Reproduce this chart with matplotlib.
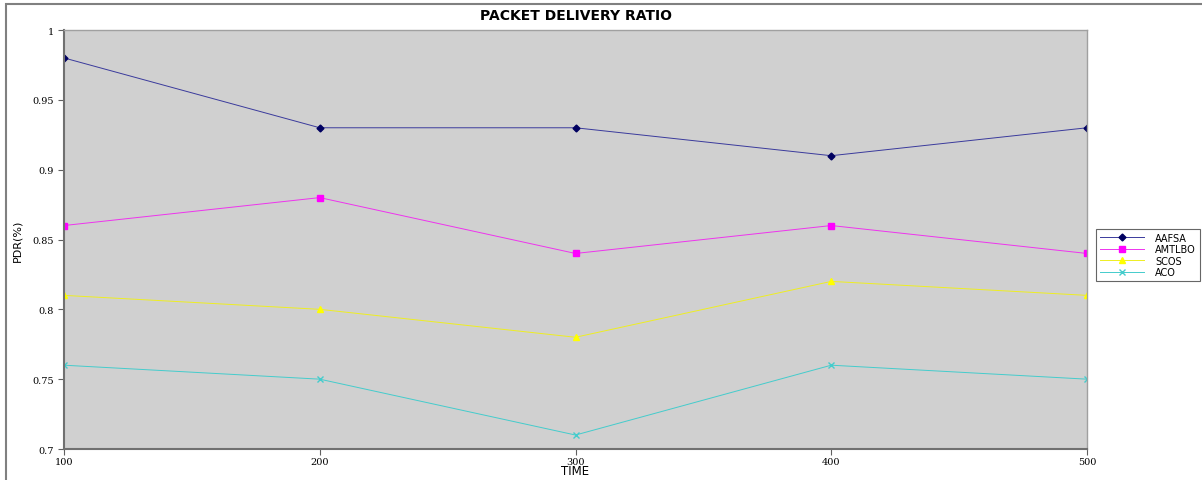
import matplotlib.pyplot as plt
from matplotlib.patches import Rectangle

time = [100, 200, 300, 400, 500]
aafsa = [0.98, 0.93, 0.93, 0.91, 0.93]
amtlbo = [0.86, 0.88, 0.84, 0.86, 0.84]
scos = [0.81, 0.80, 0.78, 0.82, 0.81]
aco = [0.76, 0.75, 0.71, 0.76, 0.75]

yticks = [0.7, 0.75, 0.8, 0.85, 0.9, 0.95, 1]
ytick_labels = ["0.7", "0.75", "0.8", "0.85", "0.9", "0.95", "1"]


def main():
    fig = plt.figure(figsize=(12.02, 4.81), dpi=100)
    # outer chart frame
    fig.patches.append(Rectangle((6 / 1202, -0.1), 1.2, 1 - 5 / 481 + 0.1,
                                 transform=fig.transFigure, fill=False,
                                 edgecolor="#808080", linewidth=1.5))

    ax = fig.add_axes([64 / 1202, 31 / 481, (1087 - 64) / 1202, (450 - 31) / 481])
    ax.set_facecolor("#d0d0d0")

    ax.plot(time, aafsa, color="#3a3a9c", marker="D", markersize=3.5, markerfacecolor="#000060",
            markeredgecolor="#000060", linewidth=0.7, label="AAFSA")
    ax.plot(time, amtlbo, color="#ee33ee", marker="s", markersize=5, markerfacecolor="#ff00ff",
            markeredgecolor="#ff00ff", linewidth=0.7, label="AMTLBO")
    ax.plot(time, scos, color="#eeee22", marker="^", markersize=5, markerfacecolor="#ffff00",
            markeredgecolor="#ffff00", linewidth=0.7, label="SCOS")
    ax.plot(time, aco, color="#44cccc", marker="x", markersize=5, linewidth=0.7, label="ACO")

    ax.set_xlim(100, 500)
    ax.set_ylim(0.7, 1)
    ax.set_xticks(time)
    ax.set_xticklabels([str(t) for t in time], fontsize=7, fontfamily="DejaVu Serif")
    ax.set_yticks(yticks)
    ax.set_yticklabels(ytick_labels, fontsize=7, fontfamily="DejaVu Serif")
    ax.tick_params(length=4, width=0.8, colors="#606060", labelcolor="black")
    ax.tick_params(axis="x", pad=2)

    for side in ("left", "bottom"):
        ax.spines[side].set_color("#707070")
        ax.spines[side].set_linewidth(1.5)
    for side in ("top", "right"):
        ax.spines[side].set_color("#a0a0a0")
        ax.spines[side].set_linewidth(1.0)

    ax.set_title("PACKET DELIVERY RATIO", fontsize=10, fontweight="bold", pad=8)
    ax.set_xlabel("TIME", fontsize=8.5, va="center")
    ax.xaxis.set_label_coords(0.5, -22 / 419)
    ax.set_ylabel("PDR(%)", fontsize=8, labelpad=7)

    leg = fig.legend(loc="upper left", bbox_to_anchor=(1091 / 1202, 1 - 225 / 481),
                     fontsize=7, frameon=True, fancybox=False, borderpad=0.4,
                     labelspacing=0.15, handlelength=4.5, handletextpad=1.2)
    leg.get_frame().set_edgecolor("#404040")
    leg.get_frame().set_linewidth(0.8)

    fig.savefig("out.png", dpi=100, facecolor="white")


if __name__ == '__main__':
    main()
